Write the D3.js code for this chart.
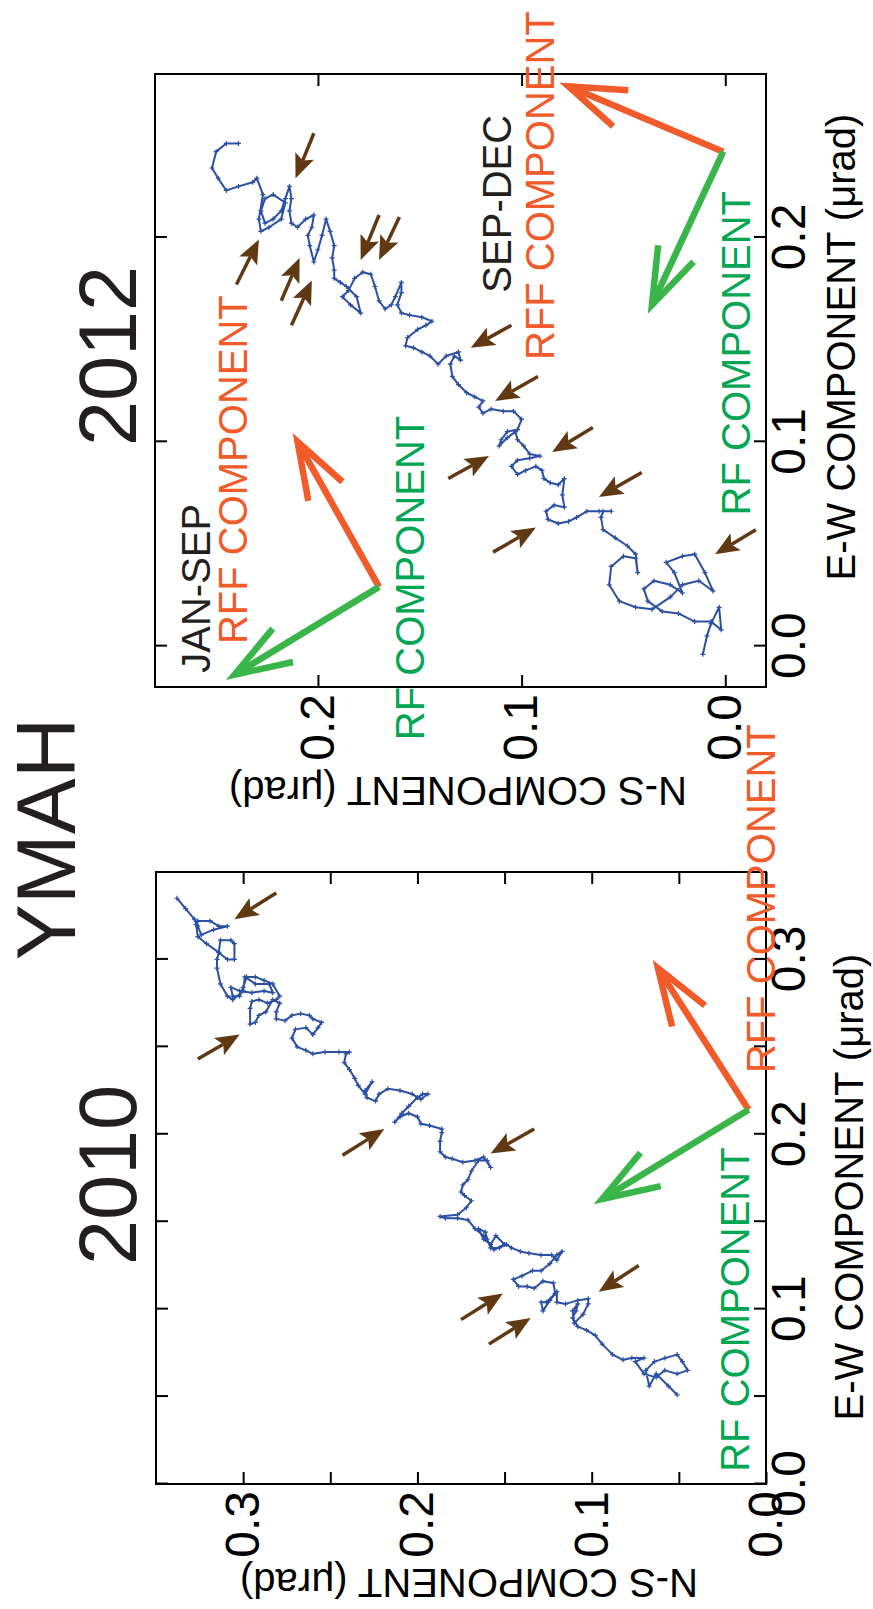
<!DOCTYPE html>
<html>
<head>
<meta charset="utf-8">
<script src="https://cdn.jsdelivr.net/npm/d3@7"></script>
<style>
  body { margin: 0; background: #fff; }
  svg text { font-family: "Liberation Sans", Arial, Helvetica, sans-serif; }
</style>
</head>
<body>
<svg id="fig" width="873" height="1609"></svg>
<script>
// tilt track, [E-W, N-S] in µrad
var track2010 = [
  [0.051,0.051],[0.056,0.056],[0.063,0.063],[0.056,0.067],[0.065,0.069],[0.070,0.064],[0.072,0.058],[0.074,0.051],
  [0.070,0.048],[0.065,0.045],[0.063,0.051],[0.065,0.058],[0.061,0.063],[0.063,0.070],[0.070,0.075],[0.072,0.070],
  [0.072,0.077],[0.071,0.082],[0.074,0.088],[0.080,0.094],[0.085,0.098],[0.088,0.103],[0.090,0.108],[0.095,0.111],
  [0.099,0.109],[0.103,0.108],[0.099,0.111],[0.092,0.110],[0.097,0.105],[0.103,0.102],[0.106,0.102],[0.105,0.108],
  [0.103,0.115],[0.104,0.120],[0.110,0.120],[0.105,0.124],[0.099,0.128],[0.104,0.129],[0.104,0.126],[0.109,0.121],
  [0.115,0.122],[0.116,0.128],[0.112,0.133],[0.113,0.137],[0.113,0.142],[0.117,0.145],[0.119,0.140],[0.122,0.134],
  [0.122,0.129],[0.126,0.124],[0.131,0.120],[0.133,0.117],[0.128,0.120],[0.131,0.123],[0.131,0.129],[0.132,0.136],
  [0.133,0.141],[0.135,0.146],[0.137,0.149],[0.135,0.153],[0.135,0.158],[0.140,0.160],[0.144,0.161],[0.146,0.165],
  [0.140,0.162],[0.137,0.158],[0.142,0.155],[0.137,0.150],[0.134,0.156],[0.142,0.162],[0.146,0.167],[0.151,0.171],
  [0.152,0.177],[0.152,0.184],[0.153,0.187],[0.154,0.177],[0.158,0.172],[0.162,0.169],[0.165,0.173],[0.167,0.175],
  [0.171,0.174],[0.174,0.171],[0.179,0.169],[0.185,0.165],[0.185,0.160],[0.181,0.158],[0.187,0.162],[0.185,0.167],
  [0.184,0.174],[0.186,0.180],[0.187,0.184],[0.190,0.187],[0.196,0.187],[0.201,0.186],[0.203,0.186],[0.205,0.193],
  [0.206,0.198],[0.210,0.200],[0.212,0.205],[0.210,0.210],[0.207,0.213],[0.212,0.209],[0.216,0.205],[0.221,0.200],
  [0.223,0.197],[0.223,0.194],[0.220,0.198],[0.223,0.203],[0.225,0.210],[0.226,0.217],[0.223,0.222],[0.219,0.224],
  [0.221,0.229],[0.225,0.230],[0.230,0.226],[0.223,0.230],[0.228,0.234],[0.232,0.236],[0.237,0.239],[0.241,0.242],
  [0.246,0.241],[0.247,0.239],[0.247,0.245],[0.247,0.253],[0.246,0.260],[0.248,0.264],[0.250,0.269],[0.255,0.272],
  [0.260,0.270],[0.261,0.264],[0.257,0.260],[0.261,0.257],[0.264,0.255],[0.266,0.260],[0.268,0.262],[0.269,0.267],
  [0.268,0.272],[0.265,0.276],[0.266,0.281],[0.270,0.281],[0.275,0.279],[0.277,0.283],[0.270,0.287],[0.268,0.291],
  [0.264,0.293],[0.263,0.296],[0.272,0.296],[0.276,0.295],[0.277,0.291],[0.275,0.286],[0.277,0.281],[0.279,0.279],
  [0.286,0.283],[0.288,0.288],[0.290,0.293],[0.290,0.298],[0.284,0.300],[0.279,0.302],[0.279,0.306],[0.284,0.307],
  [0.282,0.302],[0.281,0.295],[0.282,0.288],[0.281,0.283],[0.286,0.285],[0.286,0.293],[0.290,0.299],[0.282,0.300],
  [0.277,0.306],[0.279,0.309],[0.286,0.313],[0.295,0.315],[0.300,0.315],[0.304,0.314],[0.300,0.309],[0.300,0.305],
  [0.309,0.305],[0.311,0.307],[0.311,0.313],[0.304,0.314],[0.309,0.321],[0.313,0.326],[0.320,0.327],[0.322,0.326],
  [0.322,0.319],[0.319,0.314],[0.319,0.309],[0.317,0.317],[0.314,0.324],[0.319,0.326],[0.323,0.328],[0.329,0.333],
  [0.335,0.338]
];
var track2012 = [
  [-0.004,0.011],[0.005,0.009],[0.011,0.007],[0.019,0.003],[0.008,0.002],[0.012,0.007],[0.012,0.015],[0.016,0.023],
  [0.017,0.031],[0.022,0.038],[0.028,0.040],[0.032,0.035],[0.030,0.027],[0.026,0.021],[0.036,0.025],[0.041,0.029],
  [0.044,0.021],[0.045,0.015],[0.036,0.010],[0.027,0.006],[0.032,0.013],[0.030,0.021],[0.024,0.027],[0.018,0.036],
  [0.019,0.044],[0.022,0.052],[0.030,0.057],[0.039,0.056],[0.044,0.050],[0.043,0.044],[0.036,0.043],[0.045,0.044],
  [0.049,0.048],[0.053,0.054],[0.057,0.060],[0.063,0.061],[0.066,0.060],[0.066,0.056],[0.066,0.062],[0.066,0.068],
  [0.063,0.073],[0.061,0.077],[0.060,0.082],[0.062,0.087],[0.066,0.088],[0.069,0.084],[0.068,0.079],[0.074,0.080],
  [0.082,0.079],[0.079,0.082],[0.080,0.086],[0.082,0.089],[0.086,0.090],[0.088,0.093],[0.086,0.098],[0.084,0.102],
  [0.088,0.105],[0.091,0.102],[0.092,0.096],[0.093,0.091],[0.094,0.096],[0.098,0.099],[0.101,0.102],[0.105,0.103],
  [0.102,0.107],[0.098,0.111],[0.101,0.110],[0.105,0.107],[0.106,0.102],[0.111,0.100],[0.115,0.104],[0.115,0.109],
  [0.116,0.115],[0.114,0.119],[0.117,0.121],[0.120,0.119],[0.122,0.123],[0.124,0.127],[0.128,0.131],[0.132,0.134],
  [0.138,0.135],[0.142,0.133],[0.140,0.130],[0.144,0.131],[0.142,0.137],[0.138,0.141],[0.142,0.145],[0.144,0.149],
  [0.146,0.153],[0.147,0.157],[0.151,0.156],[0.155,0.151],[0.157,0.147],[0.159,0.144],[0.161,0.149],[0.162,0.155],
  [0.163,0.159],[0.167,0.161],[0.173,0.159],[0.178,0.159],[0.171,0.162],[0.167,0.164],[0.165,0.167],[0.169,0.170],
  [0.176,0.172],[0.182,0.174],[0.183,0.178],[0.180,0.182],[0.174,0.185],[0.171,0.188],[0.167,0.184],[0.163,0.179],
  [0.171,0.181],[0.176,0.186],[0.178,0.189],[0.180,0.192],[0.184,0.192],[0.190,0.193],[0.196,0.192],[0.203,0.194],
  [0.209,0.196],[0.201,0.198],[0.194,0.200],[0.188,0.202],[0.196,0.204],[0.201,0.205],[0.205,0.203],[0.211,0.202],
  [0.209,0.206],[0.205,0.210],[0.207,0.213],[0.213,0.214],[0.219,0.213],[0.225,0.214],[0.219,0.216],[0.213,0.218],
  [0.209,0.222],[0.207,0.226],[0.213,0.228],[0.219,0.226],[0.221,0.222],[0.217,0.216],[0.209,0.218],[0.205,0.224],
  [0.203,0.228],[0.209,0.229],[0.221,0.227],[0.229,0.230],[0.227,0.232],[0.225,0.239],[0.223,0.245],[0.229,0.249],
  [0.234,0.252],[0.242,0.250],[0.246,0.245],[0.246,0.239]
];

// brown pointers: [tail E-W, tail N-S, tip E-W, tip N-S]
var pointers2010 = [
  [0.338,0.281,0.323,0.305],[0.243,0.326,0.257,0.302],[0.188,0.243,0.203,0.219],[0.203,0.133,0.189,0.158],
  [0.125,0.073,0.110,0.096],[0.094,0.175,0.109,0.151],[0.080,0.159,0.095,0.135]
];
var pointers2012 = [
  [0.251,0.202,0.229,0.211],[0.177,0.240,0.199,0.229],[0.169,0.218,0.190,0.209],[0.157,0.213,0.179,0.203],
  [0.211,0.170,0.189,0.179],[0.210,0.160,0.189,0.170],[0.157,0.105,0.146,0.125],[0.132,0.092,0.120,0.113],
  [0.107,0.065,0.095,0.085],[0.082,0.136,0.093,0.116],[0.085,0.041,0.073,0.062],[0.046,0.114,0.058,0.093],
  [0.057,-0.015,0.045,0.005]
];

// component vectors: origin, RFF tip, RF tip ([E-W, N-S])
var components2010 = [{origin: [0.214,0.010], rff: [0.295,0.062], rf: [0.163,0.094]}];
var components2012 = [
  {origin: [0.029,0.170], rff: [0.100,0.210], rf: [-0.014,0.241]},
  {origin: [0.242,0.001], rff: [0.274,0.077], rf: [0.167,0.036]}
];

// labels inside the panels: [text, E-W, N-S, kind]
var labels2010 = [
  ["RF COMPONENT", 0.007, 0.010, "rf"],
  ["RFF COMPONENT", 0.235, -0.005, "rff"]
];
var labels2012 = [
  ["JAN-SEP", -0.013, 0.253, "period"],
  ["RFF COMPONENT", 0.001, 0.235, "rff"],
  ["RF COMPONENT", -0.046, 0.148, "rf"],
  ["SEP-DEC", 0.173, 0.105, "period"],
  ["RFF COMPONENT", 0.140, 0.084, "rff"],
  ["RF COMPONENT", 0.064, -0.012, "rf"]
];

var ticks2010 = [0, 0.05, 0.1, 0.15, 0.2, 0.25, 0.3];
var ticks2012 = [0, 0.1, 0.2];

var colors = {track: "#2b50a3", pointer: "#603913", rff: "#f15a29", rfArrow: "#39b54a", rfText: "#00a651", period: "#231f20"};

// the figure is drawn landscape and turned onto the page
var pageH = 1609;
var svg = d3.select("#fig");
var fig = svg.append("g").attr("transform", "translate(0," + pageH + ") rotate(-90)");

fig.append("text").attr("x", 770).attr("y", 75).attr("text-anchor", "middle")
  .attr("font-size", 84).attr("fill", "#231f20").text("YMAH");

function solidArrow(g, x1, y1, x2, y2) {
  var dx = x2 - x1, dy = y2 - y1, L = Math.hypot(dx, dy);
  var ux = dx / L, uy = dy / L, px = -uy, py = ux;
  var hl = 24, hw = 10, notch = 5;
  g.append("line").attr("x1", x1).attr("y1", y1)
    .attr("x2", x2 - ux * (hl - notch)).attr("y2", y2 - uy * (hl - notch))
    .attr("stroke", colors.pointer).attr("stroke-width", 3.5);
  var pts = [[x2, y2], [x2 - ux * hl + px * hw, y2 - uy * hl + py * hw],
             [x2 - ux * (hl - notch), y2 - uy * (hl - notch)], [x2 - ux * hl - px * hw, y2 - uy * hl - py * hw]];
  g.append("polygon").attr("points", pts.map(function(p) { return p.join(","); }).join(" "))
    .attr("fill", colors.pointer);
}

function openArrow(g, x1, y1, x2, y2, color) {
  var ang = Math.atan2(y1 - y2, x1 - x2), spread = 19 * Math.PI / 180, len = 60;
  g.append("line").attr("x1", x1).attr("y1", y1).attr("x2", x2).attr("y2", y2)
    .attr("stroke", color).attr("stroke-width", 6.5);
  var b1 = [x2 + len * Math.cos(ang + spread), y2 + len * Math.sin(ang + spread)];
  var b2 = [x2 + len * Math.cos(ang - spread), y2 + len * Math.sin(ang - spread)];
  g.append("polyline").attr("points", [b1, [x2, y2], b2].map(function(p) { return p.join(","); }).join(" "))
    .attr("fill", "none").attr("stroke", color).attr("stroke-width", 6.5).attr("stroke-miterlimit", 10);
}

function drawPanel(p) {
  var g = fig.append("g");
  var x = d3.scaleLinear().domain(p.domain).range([p.left, p.left + p.size[0]]);
  var y = d3.scaleLinear().domain(p.domain).range([p.top + p.size[1], p.top]);
  var fmt = function(d) { return Math.round(d * 100) % 10 == 0 ? d3.format(".1f")(d) : ""; };
  var bottom = p.top + p.size[1], right = p.left + p.size[0];

  var axes = [
    g.append("g").attr("transform", "translate(0," + bottom + ")")
      .call(d3.axisBottom(x).tickValues(p.ticks).tickSizeInner(-12).tickSizeOuter(0).tickPadding(5).tickFormat(fmt)),
    g.append("g").attr("transform", "translate(0," + p.top + ")")
      .call(d3.axisTop(x).tickValues(p.ticks).tickSizeInner(-12).tickSizeOuter(0).tickFormat("")),
    g.append("g").attr("transform", "translate(" + p.left + ",0)")
      .call(d3.axisLeft(y).tickValues(p.ticks).tickSizeInner(-12).tickSizeOuter(0).tickPadding(7).tickFormat(fmt)),
    g.append("g").attr("transform", "translate(" + right + ",0)")
      .call(d3.axisRight(y).tickValues(p.ticks).tickSizeInner(-12).tickSizeOuter(0).tickFormat(""))
  ];
  axes.forEach(function(a) {
    a.attr("font-family", null).attr("font-size", null);
    a.select(".domain").remove();
    a.selectAll(".tick line").attr("stroke", "#000").attr("stroke-width", 2);
    a.selectAll(".tick text").attr("font-size", 48).attr("fill", "#000");
  });

  g.append("rect").attr("x", p.left).attr("y", p.top).attr("width", p.size[0]).attr("height", p.size[1])
    .attr("fill", "none").attr("stroke", "#000").attr("stroke-width", 2);

  // titles
  g.append("text").attr("x", p.yearX).attr("y", 136).attr("text-anchor", "middle")
    .attr("font-size", 81).attr("fill", "#231f20").text(p.year);
  g.append("text").attr("x", p.ewTitle[0]).attr("y", p.ewTitle[1]).attr("text-anchor", "middle")
    .attr("font-size", 40).attr("fill", "#000").text("E-W COMPONENT (\u03bcrad)");
  g.append("text").attr("transform", "translate(" + p.nsTitle[0] + "," + p.nsTitle[1] + ") rotate(-90)")
    .attr("text-anchor", "middle").attr("font-size", 40).attr("fill", "#000").text("N-S COMPONENT (\u03bcrad)");

  // tilt track
  var line = d3.line().x(function(d) { return x(d[0]); }).y(function(d) { return y(d[1]); });
  g.append("path").datum(p.track).attr("d", line).attr("fill", "none")
    .attr("stroke", colors.track).attr("stroke-width", 2).attr("stroke-linejoin", "round");
  g.selectAll(".mark").data(p.track).enter().append("path").attr("class", "mark")
    .attr("transform", function(d) { return "translate(" + x(d[0]) + "," + y(d[1]) + ")"; })
    .attr("d", "M-2.5,0h5M0,-2.5v5").attr("stroke", colors.track).attr("stroke-width", 1.2);

  p.pointers.forEach(function(a) { solidArrow(g, x(a[0]), y(a[1]), x(a[2]), y(a[3])); });

  p.components.forEach(function(c) {
    openArrow(g, x(c.origin[0]), y(c.origin[1]), x(c.rff[0]), y(c.rff[1]), colors.rff);
    openArrow(g, x(c.origin[0]), y(c.origin[1]), x(c.rf[0]), y(c.rf[1]), colors.rfArrow);
  });

  p.labels.forEach(function(l) {
    var col = l[3] == "rff" ? colors.rff : (l[3] == "rf" ? colors.rfText : colors.period);
    g.append("text").attr("x", x(l[1])).attr("y", y(l[2])).attr("font-size", 40)
      .attr("fill", col).text(l[0]);
  });
}

drawPanel({year: "2010", yearX: 434, left: 125, top: 156, size: [612, 610], domain: [0, 0.35],
  ticks: ticks2010, track: track2010, pointers: pointers2010, components: components2010, labels: labels2010,
  ewTitle: [422, 863], nsTitle: [40, 469]});
drawPanel({year: "2012", yearX: 1253, left: 922, top: 155, size: [613, 611], domain: [-0.02, 0.28],
  ticks: ticks2012, track: track2012, pointers: pointers2012, components: components2012, labels: labels2012,
  ewTitle: [1262, 855], nsTitle: [832, 458]});
</script>
</body>
</html>
